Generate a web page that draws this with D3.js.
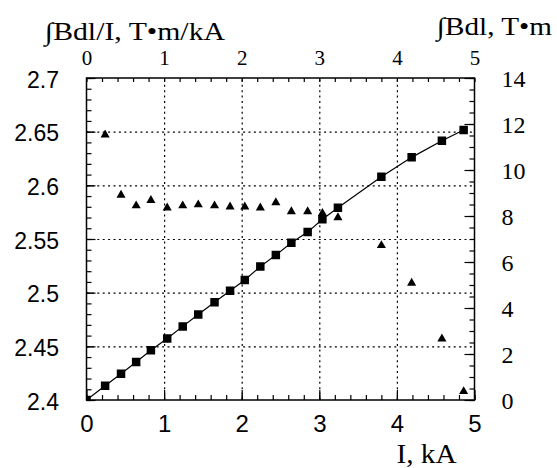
<!DOCTYPE html>
<html>
<head>
<meta charset="utf-8">
<script src="https://cdn.jsdelivr.net/npm/d3@7"></script>
<style>
  body { margin: 0; background: #fff; }
  .serif { font-family: "Liberation Serif", "Times New Roman", serif; }
  .sans { font-family: "Liberation Sans", Arial, sans-serif; }
</style>
</head>
<body>
<div id="chart"></div>
<script>
// ∫Bdl vs current (squares, right axis)
const current = [0, 0.24, 0.445, 0.64, 0.83, 1.04, 1.24, 1.44, 1.65, 1.85, 2.04, 2.24, 2.44, 2.64, 2.85, 3.04, 3.24, 3.80, 4.19, 4.58, 4.86];
const fieldInt = [0, 0.62, 1.14, 1.65, 2.16, 2.67, 3.2, 3.72, 4.25, 4.75, 5.22, 5.8, 6.3, 6.84, 7.3, 7.86, 8.36, 9.71, 10.55, 11.27, 11.74];
// ∫Bdl/I vs current (triangles, left axis)
const ratioCurrent = [0.24, 0.445, 0.64, 0.83, 1.04, 1.24, 1.44, 1.65, 1.85, 2.04, 2.24, 2.44, 2.64, 2.85, 3.04, 3.24, 3.80, 4.19, 4.58, 4.86];
const ratio = [2.647, 2.591, 2.581, 2.586, 2.579, 2.581, 2.582, 2.581, 2.580, 2.580, 2.579, 2.584, 2.5755, 2.5755, 2.574, 2.570, 2.544, 2.509, 2.457, 2.408];

const xTicks = [0, 1, 2, 3, 4, 5];
const leftTicks = [2.4, 2.45, 2.5, 2.55, 2.6, 2.65, 2.7];
const rightTicks = [0, 2, 4, 6, 8, 10, 12, 14];

const W = 557, H = 468;
const margin = { top: 78, right: 82.5, bottom: 68, left: 86.5 };
const width = W - margin.left - margin.right;
const height = H - margin.top - margin.bottom;

const svg = d3.select('#chart').append('svg')
    .attr('width', W)
    .attr('height', H);

const g = svg.append('g')
    .attr('transform', `translate(${margin.left},${margin.top})`);

const x = d3.scaleLinear().domain([0, 5]).range([0, width]);
const yL = d3.scaleLinear().domain([2.4, 2.7]).range([height, 0]);
const yR = d3.scaleLinear().domain([0, 14]).range([height, 0]);

svg.append('defs').append('clipPath')
    .attr('id', 'plot-clip')
    .append('rect')
    .attr('width', width)
    .attr('height', height);

const noDomain = sel => sel.select('.domain').remove();

// dotted grid
g.append('g')
    .attr('class', 'grid')
    .attr('transform', `translate(0,${height})`)
    .call(d3.axisBottom(x).tickValues([1, 2, 3, 4]).tickSize(-height).tickFormat(''))
    .call(noDomain);
g.append('g')
    .attr('class', 'grid')
    .call(d3.axisLeft(yL).tickValues([2.45, 2.5, 2.55, 2.6, 2.65]).tickSize(-width).tickFormat(''))
    .call(noDomain);
g.selectAll('.grid line')
    .attr('stroke', '#000')
    .attr('stroke-width', 1.2)
    .attr('stroke-dasharray', '2,3.4');

// inward ticks
const tickAxis = (axis, transform) => {
    g.append('g')
        .attr('transform', transform || null)
        .call(axis.tickFormat(''))
        .call(noDomain)
        .selectAll('line').attr('stroke', '#000').attr('stroke-width', 1.2);
};
const minorX = d3.range(0, 26).map(i => i * 0.2);
tickAxis(d3.axisBottom(x).tickValues(minorX).tickSize(-5), `translate(0,${height})`);
tickAxis(d3.axisBottom(x).tickValues(xTicks).tickSize(-10), `translate(0,${height})`);
tickAxis(d3.axisTop(x).tickValues(minorX).tickSize(-4));
tickAxis(d3.axisLeft(yL).tickValues(d3.range(0, 31).map(i => 2.4 + i * 0.01)).tickSize(-5));
tickAxis(d3.axisLeft(yL).tickValues(leftTicks).tickSize(-9));
tickAxis(d3.axisRight(yR).tickValues(d3.range(0, 29).map(i => i * 0.5)).tickSize(-5), `translate(${width},0)`);
tickAxis(d3.axisRight(yR).tickValues(rightTicks).tickSize(-10), `translate(${width},0)`);

// tick labels
const labelAxis = (axis, transform, cls, size, dy) => {
    const a = g.append('g')
        .attr('transform', transform || null)
        .call(axis)
        .call(noDomain);
    a.selectAll('line').remove();
    const t = a.selectAll('text')
        .attr('class', cls)
        .attr('font-family', null)
        .style('font-size', size + 'px')
        .attr('fill', '#000');
    if (dy) t.attr('dy', dy);
    return a;
};
labelAxis(d3.axisBottom(x).tickValues(xTicks).tickSize(0).tickPadding(15).tickFormat(d3.format('d')),
    `translate(0,${height})`, 'sans', 24);
labelAxis(d3.axisTop(x).tickValues(xTicks).tickSize(0).tickPadding(13).tickFormat(d3.format('d')),
    null, 'serif', 21);
labelAxis(d3.axisLeft(yL).tickValues(leftTicks).tickSize(0).tickPadding(27.5).tickFormat(d => String(+d.toFixed(2))),
    null, 'sans', 23, '0.4em');
labelAxis(d3.axisRight(yR).tickValues(rightTicks).tickSize(0).tickPadding(27).tickFormat(d3.format('d')),
    `translate(${width},0)`, 'serif', 24, '0.36em');

// data
const plot = g.append('g').attr('clip-path', 'url(#plot-clip)');

const squares = current.map((c, i) => ({ c, v: fieldInt[i] }));
plot.append('path')
    .datum(squares)
    .attr('fill', 'none')
    .attr('stroke', '#000')
    .attr('stroke-width', 1.2)
    .attr('d', d3.line().x(d => x(d.c)).y(d => yR(d.v)));

plot.selectAll('.sq')
    .data(squares)
    .enter()
    .append('path')
    .attr('class', 'sq')
    .attr('transform', d => `translate(${x(d.c)},${yR(d.v)})`)
    .attr('d', d3.symbol().type(d3.symbolSquare).size(72))
    .attr('fill', '#000');

plot.selectAll('.tri')
    .data(ratioCurrent.map((c, i) => ({ c, v: ratio[i] })))
    .enter()
    .append('path')
    .attr('class', 'tri')
    .attr('transform', d => `translate(${x(d.c)},${yL(d.v)})`)
    .attr('d', d3.symbol().type(d3.symbolTriangle).size(36))
    .attr('fill', '#000');

// frame
g.append('rect')
    .attr('width', width)
    .attr('height', height)
    .attr('fill', 'none')
    .attr('stroke', '#000')
    .attr('stroke-width', 1.5);

// axis titles
svg.append('text')
    .attr('class', 'serif')
    .attr('x', 45)
    .attr('y', 39.5)
    .attr('textLength', 180)
    .attr('lengthAdjust', 'spacingAndGlyphs')
    .style('font-size', '25px')
    .text('∫Bdl/I, T•m/kA');
svg.append('text')
    .attr('class', 'serif')
    .attr('x', 437)
    .attr('y', 35)
    .attr('textLength', 115)
    .attr('lengthAdjust', 'spacingAndGlyphs')
    .style('font-size', '25px')
    .text('∫Bdl, T•m');
svg.append('text')
    .attr('class', 'serif')
    .attr('x', 396.5)
    .attr('y', 463)
    .attr('textLength', 60)
    .attr('lengthAdjust', 'spacingAndGlyphs')
    .style('font-size', '28px')
    .text('I, kA');
</script>
</body>
</html>
